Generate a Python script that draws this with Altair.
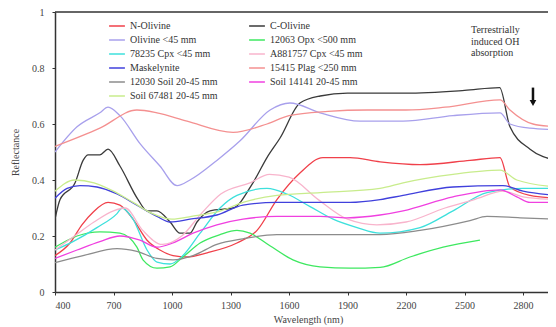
import altair as alt
import pandas as pd

# ---------------- data ----------------
series_names = [
    "N-Olivine", "C-Olivine",
    "Olivine <45 mm", "12063 Opx <500 mm",
    "78235 Cpx <45 mm", "A881757 Cpx <45 mm",
    "Maskelynite", "15415 Plag <250 mm",
    "12030 Soil 20-45 mm", "Soil 14141 20-45 mm",
    "Soil 67481 20-45 mm",
]
series_colors = [
    "#f0404a", "#3a3a3a",
    "#a8a0ec", "#3ee860",
    "#3ee0dc", "#f8b4cc",
    "#4040dc", "#f49090",
    "#8c8c8c", "#f040e0",
    "#c8ec8c",
]

n_olivine_wl = [400, 477, 538, 595, 672, 733, 800, 872, 938, 1005, 1077, 1180, 1333, 1436, 1538, 1656, 1774, 1913, 2067, 2272, 2528, 2682, 2733, 2836, 2970]
n_olivine_r = [0.13, 0.175, 0.24, 0.285, 0.32, 0.31, 0.26, 0.185, 0.15, 0.13, 0.125, 0.14, 0.175, 0.22, 0.33, 0.425, 0.48, 0.48, 0.465, 0.455, 0.47, 0.48, 0.375, 0.345, 0.335]

c_olivine_wl = [400, 426, 503, 544, 570, 630, 672, 733, 826, 872, 923, 990, 1041, 1092, 1128, 1195, 1313, 1415, 1487, 1554, 1656, 1760, 1900, 2200, 2500, 2680, 2733, 2836, 2970]
c_olivine_r = [0.26, 0.33, 0.39, 0.47, 0.49, 0.49, 0.51, 0.45, 0.33, 0.29, 0.29, 0.25, 0.21, 0.21, 0.25, 0.29, 0.30, 0.39, 0.48, 0.55, 0.675, 0.70, 0.71, 0.71, 0.72, 0.73, 0.59, 0.51, 0.47]

olivine_wl = [400, 513, 630, 672, 733, 836, 938, 1026, 1092, 1230, 1349, 1503, 1605, 1759, 1964, 2185, 2441, 2682, 2733, 2836, 2970]
olivine_r = [0.50, 0.59, 0.64, 0.66, 0.63, 0.53, 0.45, 0.38, 0.40, 0.47, 0.54, 0.65, 0.675, 0.64, 0.61, 0.61, 0.63, 0.64, 0.60, 0.585, 0.58]

opx_12063_wl = [400, 513, 630, 733, 820, 851, 923, 990, 1056, 1144, 1246, 1333, 1400, 1502, 1620, 1759, 1913, 2067, 2220, 2390, 2579]
opx_12063_r = [0.16, 0.20, 0.215, 0.21, 0.16, 0.115, 0.085, 0.09, 0.125, 0.175, 0.205, 0.22, 0.21, 0.165, 0.115, 0.09, 0.085, 0.088, 0.125, 0.16, 0.185]

cpx_78235_wl = [400, 492, 615, 718, 744, 800, 872, 923, 990, 1056, 1144, 1246, 1333, 1487, 1589, 1708, 1826, 1949, 2067, 2272, 2441, 2615, 2800, 2970]
cpx_78235_r = [0.15, 0.18, 0.23, 0.28, 0.30, 0.26, 0.15, 0.107, 0.10, 0.13, 0.21, 0.30, 0.345, 0.37, 0.35, 0.305, 0.26, 0.23, 0.21, 0.23, 0.29, 0.355, 0.37, 0.37]

cpx_a881757_wl = [400, 500, 600, 700, 760, 850, 950, 1050, 1150, 1250, 1400, 1500, 1600, 1750, 1900, 2050, 2200, 2400, 2550, 2700, 2800, 2970]
cpx_a881757_r = [0.15, 0.20, 0.25, 0.29, 0.30, 0.22, 0.17, 0.20, 0.28, 0.35, 0.39, 0.42, 0.41, 0.33, 0.26, 0.24, 0.25, 0.30, 0.33, 0.36, 0.34, 0.33]

maskelynite_wl = [400, 462, 528, 615, 718, 820, 923, 990, 1092, 1230, 1364, 1538, 1759, 1913, 2067, 2185, 2441, 2697, 2800, 2970]
maskelynite_r = [0.335, 0.37, 0.38, 0.375, 0.35, 0.31, 0.27, 0.25, 0.26, 0.275, 0.31, 0.32, 0.32, 0.32, 0.33, 0.345, 0.375, 0.38, 0.36, 0.345]

plag_15415_wl = [400, 630, 820, 923, 1077, 1313, 1487, 1600, 1800, 2000, 2200, 2400, 2682, 2733, 2851, 2970]
plag_15415_r = [0.52, 0.585, 0.65, 0.64, 0.61, 0.57, 0.60, 0.63, 0.645, 0.65, 0.65, 0.66, 0.686, 0.65, 0.60, 0.59]

soil_12030_wl = [400, 544, 718, 820, 923, 1005, 1108, 1230, 1364, 1538, 2067, 2272, 2528, 2615, 2785, 2970]
soil_12030_r = [0.105, 0.13, 0.155, 0.145, 0.12, 0.115, 0.13, 0.17, 0.19, 0.205, 0.205, 0.22, 0.255, 0.27, 0.265, 0.26]

soil_14141_wl = [400, 513, 630, 733, 836, 923, 1005, 1108, 1230, 1364, 1538, 1759, 1897, 2067, 2185, 2441, 2682, 2768, 2836, 2970]
soil_14141_r = [0.12, 0.15, 0.18, 0.20, 0.185, 0.16, 0.175, 0.21, 0.24, 0.26, 0.27, 0.27, 0.265, 0.275, 0.29, 0.34, 0.365, 0.34, 0.32, 0.32]

soil_67481_wl = [400, 500, 600, 700, 800, 900, 1000, 1100, 1250, 1364, 1538, 1760, 2067, 2185, 2441, 2682, 2768, 2970]
soil_67481_r = [0.36, 0.40, 0.39, 0.36, 0.32, 0.28, 0.26, 0.27, 0.29, 0.32, 0.345, 0.355, 0.37, 0.39, 0.42, 0.435, 0.40, 0.375]

x_ticks = [400, 700, 1000, 1300, 1600, 1900, 2200, 2500, 2800]
y_ticks = [0, 0.2, 0.4, 0.6, 0.8, 1]

note_lines = ["Terrestrially", "induced OH", "absorption"]
note_wl = [2533, 2533, 2533]
note_r = [0.936, 0.893, 0.852]
arrow_wl = [2851]
arrow_top = [0.73]
arrow_bottom = [0.675]

# ---------------- build table ----------------
all_series = [
    ("N-Olivine", n_olivine_wl, n_olivine_r),
    ("C-Olivine", c_olivine_wl, c_olivine_r),
    ("Olivine <45 mm", olivine_wl, olivine_r),
    ("12063 Opx <500 mm", opx_12063_wl, opx_12063_r),
    ("78235 Cpx <45 mm", cpx_78235_wl, cpx_78235_r),
    ("A881757 Cpx <45 mm", cpx_a881757_wl, cpx_a881757_r),
    ("Maskelynite", maskelynite_wl, maskelynite_r),
    ("15415 Plag <250 mm", plag_15415_wl, plag_15415_r),
    ("12030 Soil 20-45 mm", soil_12030_wl, soil_12030_r),
    ("Soil 14141 20-45 mm", soil_14141_wl, soil_14141_r),
    ("Soil 67481 20-45 mm", soil_67481_wl, soil_67481_r),
]
rows = []
for name, wls, rs in all_series:
    for w, r in zip(wls, rs):
        rows.append({"series": name, "wl": w, "r": r})
df = pd.DataFrame(rows)

FONT = "Liberation Serif"
XDOM = [400, 2928]

x_enc = alt.X(
    "wl:Q",
    scale=alt.Scale(domain=XDOM, nice=False, zero=False),
    axis=alt.Axis(
        values=x_ticks, format="d", title="Wavelength (nm)", grid=False,
        titleX=253, titleY=22, titleFont=FONT, titleFontSize=10, titleFontWeight="normal",
        labelFont=FONT, labelFontSize=10, labelColor="#444", titleColor="#444",
        tickSize=3, labelPadding=5, domainColor="#333", domainWidth=1.5, tickColor="#333",
    ),
)
y_enc = alt.Y(
    "r:Q",
    scale=alt.Scale(domain=[0, 1], nice=False),
    axis=alt.Axis(
        values=y_ticks, format="~g", title="Reflectance", grid=False,
        titleX=-35, titleY=140, titleFont=FONT, titleFontSize=10, titleFontWeight="normal",
        labelFont=FONT, labelFontSize=10, labelColor="#444", titleColor="#444",
        tickSize=3, labelPadding=8, domainColor="#333", domainWidth=1.5, tickColor="#333",
    ),
)

lines = alt.Chart(df).mark_line(clip=True, strokeWidth=1.3, interpolate="monotone").encode(
    x=x_enc,
    y=y_enc,
    color=alt.Color(
        "series:N",
        scale=alt.Scale(domain=series_names, range=series_colors),
        sort=series_names,
        legend=alt.Legend(
            title=None, orient="none", legendX=53, legendY=5, columns=2,
            direction="horizontal",
            symbolType="stroke", symbolSize=250, symbolStrokeWidth=1.5,
            labelFont=FONT, labelFontSize=10, labelColor="#333",
            columnPadding=28, rowPadding=-4, labelOffset=4,
        ),
    ),
    detail="series:N",
)

top_border = alt.Chart(pd.DataFrame({"r": [1]})).mark_rule(color="#333", strokeWidth=1.5).encode(
    y=alt.Y("r:Q", scale=alt.Scale(domain=[0, 1], nice=False)),
)

note_df = pd.DataFrame({"t": note_lines, "wl": note_wl, "r": note_r})
notes = alt.Chart(note_df).mark_text(align="left", font=FONT, fontSize=10, color="#333").encode(
    x=alt.X("wl:Q", scale=alt.Scale(domain=XDOM, nice=False, zero=False)),
    y=alt.Y("r:Q", scale=alt.Scale(domain=[0, 1], nice=False)),
    text="t:N",
)

arrow_df = pd.DataFrame({"wl": arrow_wl, "top": arrow_top, "bottom": arrow_bottom})
arrow_shaft = alt.Chart(arrow_df).mark_rule(color="#111", strokeWidth=2.5).encode(
    x=alt.X("wl:Q", scale=alt.Scale(domain=XDOM, nice=False, zero=False)),
    y=alt.Y("top:Q", scale=alt.Scale(domain=[0, 1], nice=False)),
    y2="bottom:Q",
)
arrow_head = alt.Chart(arrow_df).mark_point(shape="triangle-down", filled=True, color="#111", size=45, opacity=1).encode(
    x=alt.X("wl:Q", scale=alt.Scale(domain=XDOM, nice=False, zero=False)),
    y=alt.Y("bottom:Q", scale=alt.Scale(domain=[0, 1], nice=False)),
)

chart = (
    alt.layer(lines, top_border, notes, arrow_shaft, arrow_head)
    .properties(
        width=493, height=280,
        autosize=alt.AutoSizeParams(type="none"),
        padding={"left": 47, "top": 4, "right": 0, "bottom": 35},
        background="white",
    )
    .configure_view(stroke=None)
)

chart.save("out.html", embed_options={"renderer": "svg", "actions": False})
